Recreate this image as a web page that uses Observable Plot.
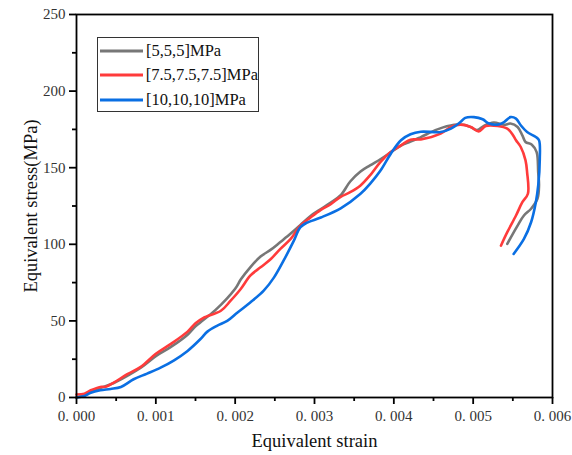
<!DOCTYPE html>
<html>
<head>
<meta charset="utf-8">
<script src="https://cdn.jsdelivr.net/npm/d3@7"></script>
<script src="https://cdn.jsdelivr.net/npm/@observablehq/plot@0.6"></script>
<style>
  html, body { margin: 0; padding: 0; background: white; }
  #wrap { position: relative; width: 572px; height: 455px; }
  #wrap svg { font-family: "Liberation Serif", "Times New Roman", serif !important; }
  #legend { position: absolute; left: 97px; top: 37px; width: 162px; height: 75px;
    border: 1px solid #333; background: white; box-sizing: border-box;
    font-family: "Liberation Serif", "Times New Roman", serif; font-size: 16.5px; color: #111; padding-top: 1px; }
  .row { display: flex; align-items: center; height: 24.3px; }
  .row svg { margin-left: 2px; margin-right: 3px; }
</style>
</head>
<body>
<div id="wrap"></div>
<script>
const seriesNames = ["[5,5,5]MPa", "[7.5,7.5,7.5]MPa", "[10,10,10]MPa"];
const seriesColors = ["#777777", "#ff3b3b", "#0a6fe3"];

const xTicks = [0, 0.001, 0.002, 0.003, 0.004, 0.005, 0.006];
const xTickLabels = ["0. 000", "0. 001", "0. 002", "0. 003", "0. 004", "0. 005", "0. 006"];
const xMinor = [0.0005, 0.0015, 0.0025, 0.0035, 0.0045, 0.0055];
const yTicks = [0, 50, 100, 150, 200, 250];
const yTickLabels = ["0", "50", "100", "150", "200", "250"];
const yMinor = [25, 75, 125, 175, 225];

const grayStrain = [0, 0.0001, 0.00018, 0.0003, 0.00047, 0.00065, 0.00082, 0.001, 0.00119, 0.0014, 0.0015, 0.00156, 0.00175, 0.002, 0.00207, 0.00219, 0.00232, 0.00245, 0.00257, 0.0027, 0.00282, 0.00295, 0.00308, 0.0032, 0.00333, 0.00345, 0.00358, 0.0037, 0.00383, 0.00396, 0.00409, 0.00421, 0.00434, 0.00455, 0.00476, 0.00488, 0.00497, 0.00505, 0.00514, 0.00526, 0.00539, 0.00547, 0.00556, 0.00562, 0.00566, 0.00574, 0.0058, 0.00582, 0.00583, 0.00581, 0.00573, 0.00564, 0.00556, 0.00543];
const grayStress = [0, 1.5, 3.8, 6.2, 9.5, 14.5, 19.8, 27, 33, 41, 46.5, 49, 57, 71, 77, 85, 92, 96.5, 101.5, 107, 112.5, 118.5, 123, 127, 132, 141, 147.5, 151.5, 155.5, 160, 164.5, 167, 170, 175, 178, 178, 176.5, 174.5, 177.5, 179.5, 178, 178.8, 176.6, 171.1, 166.8, 165, 160.2, 147, 138.4, 129.7, 123.2, 118.8, 112.2, 100.3];

const redStrain = [0, 0.0001, 0.00018, 0.0003, 0.00037, 0.00047, 0.00064, 0.00081, 0.001, 0.00119, 0.0014, 0.0015, 0.0016, 0.00182, 0.00194, 0.00207, 0.00219, 0.00232, 0.00245, 0.00257, 0.0027, 0.00282, 0.00295, 0.00308, 0.0032, 0.00333, 0.00345, 0.00358, 0.0037, 0.00383, 0.00396, 0.00409, 0.00421, 0.00434, 0.00459, 0.00472, 0.00484, 0.00497, 0.00507, 0.00516, 0.00531, 0.00543, 0.00549, 0.00554, 0.0056, 0.00566, 0.00568, 0.00569, 0.00562, 0.00554, 0.00543, 0.00535];
const redStress = [2, 2.5, 4.7, 6.9, 7, 9.7, 15.2, 20, 28.5, 35, 43, 48.5, 52, 56.6, 63, 70.8, 79.5, 85, 90.4, 97, 103.5, 112, 117.5, 122.5, 126, 131, 134, 138.4, 145, 153.7, 160.2, 164.6, 168.3, 168.5, 172.2, 176.6, 178.1, 176.6, 173.7, 177.2, 177.2, 175.5, 172.2, 167.9, 163.5, 154.8, 147, 133, 127.5, 118.8, 107.9, 99.1];

const blueStrain = [0, 0.0001, 0.00018, 0.0003, 0.00043, 0.00056, 0.00072, 0.00089, 0.00106, 0.00123, 0.0014, 0.00156, 0.00165, 0.00177, 0.0019, 0.00203, 0.00219, 0.00236, 0.00249, 0.00261, 0.00274, 0.00282, 0.0029, 0.00308, 0.00333, 0.00358, 0.0037, 0.00383, 0.00396, 0.00409, 0.00421, 0.00434, 0.00459, 0.00472, 0.00484, 0.0049, 0.00501, 0.00512, 0.0052, 0.00531, 0.00539, 0.00547, 0.00554, 0.0056, 0.00568, 0.00579, 0.00583, 0.00584, 0.00582, 0.00579, 0.00573, 0.00564, 0.00551];
const blueStress = [0, 1, 3.1, 4.7, 5.6, 6.9, 11.9, 15.6, 19.5, 24.3, 30.4, 38, 43, 46.8, 50, 55.5, 62, 69.7, 78.4, 89.3, 102.4, 111, 114, 117.5, 123.5, 133, 139.5, 148, 159, 167.9, 171.8, 173.5, 173.3, 175.5, 179.8, 182.5, 183, 181.6, 178.8, 178.1, 179.8, 183, 182, 177.7, 173.3, 170, 167.9, 155.9, 138.4, 127.5, 114.4, 103.5, 93.7];

const seriesStrain = [grayStrain, redStrain, blueStrain];
const seriesStress = [grayStress, redStress, blueStress];

const data = [];
seriesNames.forEach((name, k) => {
  seriesStrain[k].forEach((s, i) => data.push({series: name, strain: s, stress: seriesStress[k][i]}));
});

const xLabelMap = new Map(xTicks.map((t, i) => [t, xTickLabels[i]]));
const yLabelMap = new Map(yTicks.map((t, i) => [t, yTickLabels[i]]));
const serif = "Liberation Serif";

const chart = Plot.plot({
  width: 572,
  height: 455,
  marginLeft: 76,
  marginRight: 20,
  marginTop: 14,
  marginBottom: 58,
  style: {fontFamily: serif, fontSize: "15px", color: "#222", background: "white"},
  x: {domain: [0, 0.006]},
  y: {domain: [0, 250]},
  color: {domain: seriesNames, range: seriesColors},
  marks: [
    Plot.line(data, {x: "strain", y: "stress", z: "series", stroke: "series", strokeWidth: 2.6, curve: "catmull-rom"}),
    Plot.frame({stroke: "black", strokeWidth: 1.8}),
    Plot.axisX(xTicks, {tickSize: 7, tickPadding: 6, strokeWidth: 1.8, stroke: "black", tickFormat: d => xLabelMap.get(d), label: null, fontSize: 15, fontFamily: serif, fill: "#333"}),
    Plot.axisX(xMinor, {tickSize: 4, strokeWidth: 1.8, stroke: "black", tickFormat: () => "", label: null}),
    Plot.axisY(yTicks, {tickSize: 7, tickPadding: 4, strokeWidth: 1.8, stroke: "black", tickFormat: d => yLabelMap.get(d), label: null, fontSize: 15, fontFamily: serif, fill: "#333"}),
    Plot.axisY(yMinor, {tickSize: 4, strokeWidth: 1.8, stroke: "black", tickFormat: () => "", label: null}),
    Plot.text(["Equivalent strain"], {frameAnchor: "bottom", dy: 44, fontSize: 18.5, fontFamily: serif, fill: "#111", lineAnchor: "middle", textAnchor: "middle"}),
    Plot.text(["Equivalent stress(MPa)"], {frameAnchor: "left", dx: -45, rotate: -90, fontSize: 18.5, fontFamily: serif, fill: "#111", lineAnchor: "middle", textAnchor: "middle"})
  ]
});

const wrap = document.getElementById("wrap");
wrap.appendChild(chart);

const legend = document.createElement("div");
legend.id = "legend";
seriesNames.forEach((name, k) => {
  const row = document.createElement("div");
  row.className = "row";
  row.innerHTML = `<svg width="43" height="6"><line x1="0" y1="3" x2="43" y2="3" stroke="${seriesColors[k]}" stroke-width="2.8"/></svg><span>${name}</span>`;
  legend.appendChild(row);
});
wrap.appendChild(legend);
</script>
</body>
</html>
